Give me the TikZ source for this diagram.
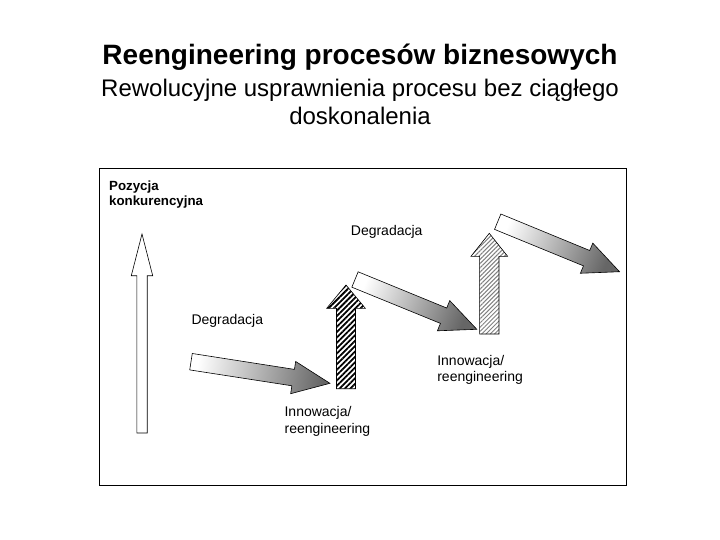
\documentclass[tikz,border=0pt]{standalone}
\usepackage{fontspec}
\setmainfont{Liberation Sans}
\usetikzlibrary{patterns.meta}
\pgfdeclarehorizontalshading{arrshade}{100bp}{color(0bp)=(white); color(25bp)=(white); color(75bp)=(black!60); color(100bp)=(black!60)}
\tikzset{
  outl/.style={draw=black, line width=0.6pt},
  garrow/.style={outl, shade, shading=arrshade},
  hatchdark/.style={outl, pattern={Lines[angle=45,distance=3.8pt,line width=1.8pt]}, pattern color=black},
  hatcharrowlight/.style={outl, pattern={Lines[angle=45,distance=3pt,line width=1pt]}, pattern color=black!50},
  whitearrow/.style={outl, fill=white},
  lbl/.style={font=\fontsize{14}{16.5}\selectfont, inner sep=0pt, anchor=base west},
  axlbl/.style={font=\fontsize{13.3}{15.3}\selectfont\bfseries, inner sep=0pt, anchor=base west},
}
% tail point, angle, length, head length
\newcommand\slantarrow[4]{%
  \begin{scope}[shift={#1}, rotate=#2]
    \path[garrow, shading angle=#2] (0,8.3) -- ({#3-#4},8.3) -- ({#3-#4},16.3) -- (#3,0)
      -- ({#3-#4},-16.3) -- ({#3-#4},-8.3) -- (0,-8.3) -- cycle;
  \end{scope}}
% style, centre x, half shaft, half head, bottom y, head base y, tip y
\newcommand\uparrowshape[7]{%
  \path[#1] ({#2-#3},#5) -- ({#2-#3},#6) -- ({#2-#4},#6) -- (#2,#7) -- ({#2+#4},#6)
    -- ({#2+#3},#6) -- ({#2+#3},#5) -- cycle;}
\begin{document}
\begin{tikzpicture}[x=1pt,y=-1pt]
  \useasboundingbox (0,0) rectangle (720,540);
  % titles
  \node[font=\fontsize{28}{33}\selectfont\bfseries, anchor=base, inner sep=0pt] (title) at (360,64.3) {Reengineering procesów biznesowych};
  \node[font=\fontsize{24}{27.6}\selectfont, anchor=base, inner sep=0pt] (sub1) at (360,96.7) {Rewolucyjne usprawnienia procesu bez ciągłego};
  \node[font=\fontsize{24}{27.6}\selectfont, anchor=base, inner sep=0pt] (sub2) at (360,124.3) {doskonalenia};
  % frame
  \draw[line width=1pt] (99.3,168.3) rectangle (626.3,485);
  % vertical arrows
  \uparrowshape{whitearrow}{142}{5.2}{10.7}{433}{275.7}{234}
  \uparrowshape{hatchdark}{346}{9.5}{19.3}{388.7}{308.3}{285}
  \uparrowshape{hatcharrowlight}{489.3}{9.7}{18.3}{334}{256.3}{233.3}
  % slanted gradient arrows
  \slantarrow{(191,361.7)}{-8.84}{140.6}{37.2}
  \slantarrow{(355,279.5)}{-22.24}{131.6}{35.9}
  \slantarrow{(497.7,221.7)}{-22.32}{131.7}{35.6}
  % labels
  \node[axlbl] (poz1) at (109,190.7) {Pozycja};
  \node[axlbl] (poz2) at (109,206) {konkurencyjna};
  \node[lbl] (deg1) at (350.7,236) {Degradacja};
  \node[lbl] (deg2) at (191.3,324) {Degradacja};
  \node[lbl] (inn1a) at (284.4,416.7) {Innowacja/};
  \node[lbl] (inn1b) at (284.4,433) {reengineering};
  \node[lbl] (inn2a) at (437.1,365) {Innowacja/};
  \node[lbl] (inn2b) at (437.1,381.7) {reengineering};
\end{tikzpicture}
\end{document}
